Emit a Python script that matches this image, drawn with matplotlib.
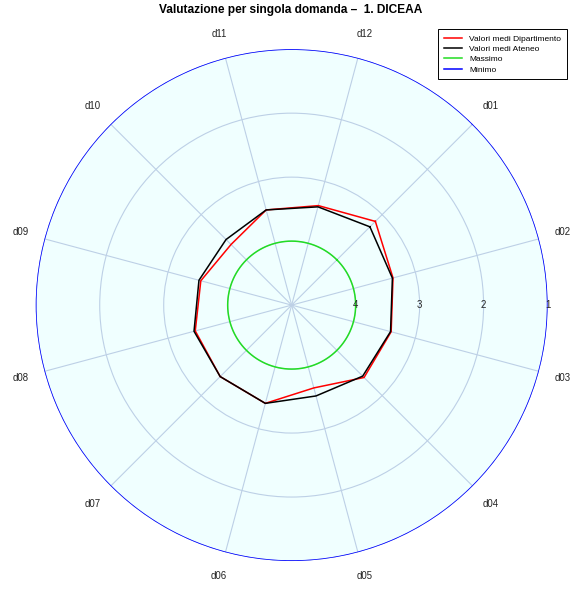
import numpy as np
import matplotlib.pyplot as plt

plt.rcParams['font.family'] = ['Liberation Sans', 'DejaVu Sans']

domande = ['d01', 'd02', 'd03', 'd04', 'd05', 'd06',
           'd07', 'd08', 'd09', 'd10', 'd11', 'd12']
dipartimento = [3.15, 3.36, 3.39, 3.40, 3.66, 3.41, 3.42, 3.44, 3.53, 3.66, 3.46, 3.39]
ateneo = [3.27, 3.37, 3.40, 3.43, 3.53, 3.41, 3.42, 3.42, 3.50, 3.55, 3.46, 3.41]
massimo = 4
minimo = 1
rticks = [4, 3, 2, 1]

fig = plt.figure(figsize=(5.72, 5.89), dpi=100)
ax = fig.add_axes([0.0624, 0.0475, 0.895, 0.869], projection='polar')
ax.set_theta_offset(np.pi / 4)
ax.set_theta_direction(-1)
ax.set_ylim(5, 1)
ax.set_facecolor('#f0ffff')

theta = np.arange(len(domande)) * 2 * np.pi / len(domande)
ax.set_xticks(theta)
ax.set_xticklabels([])
ax.set_yticks(rticks)
ax.set_yticklabels([])
ax.grid(color='#bdd0e6', lw=0.8)
ax.spines['polar'].set_visible(False)
ax.tick_params(length=0)

circ = np.linspace(0, 2 * np.pi, 361)
th = np.append(theta, theta[0])
l1, = ax.plot(th, dipartimento + dipartimento[:1], color='red', lw=1.1)
l2, = ax.plot(th, ateneo + ateneo[:1], color='black', lw=1.1)
l3, = ax.plot(circ, np.full_like(circ, massimo), color='#22dd22', lw=1.1)
l4, = ax.plot(circ, np.full_like(circ, minimo), color='blue', lw=1.1)

for t, lab in zip(theta, domande):
    ax.text(t, 0.61, lab, ha='center', va='center', fontsize=6.9,
            color='#222222', clip_on=False)
# etichette radiali lungo l'asse orizzontale destro
for r in rticks:
    ax.text(np.pi / 4, r, str(r), ha='center', va='center', fontsize=6.9,
            color='#222222', clip_on=False)

fig.text(0.508, 1 - 10 / 589, 'Valutazione per singola domanda \u2013  1. DICEAA',
         ha='center', va='center', fontsize=8.6, fontweight='bold')

leg = fig.legend([l1, l2, l3, l4],
                 ['Valori medi Dipartimento', 'Valori medi Ateneo', 'Massimo', 'Minimo'],
                 loc='upper right', bbox_to_anchor=(0.991, 0.951), fontsize=6,
                 fancybox=False, edgecolor='black', framealpha=1, borderaxespad=0,
                 handlelength=2.2, labelspacing=0.3, borderpad=0.7)
leg.get_frame().set_linewidth(0.7)

fig.savefig('out.png', dpi=100)
